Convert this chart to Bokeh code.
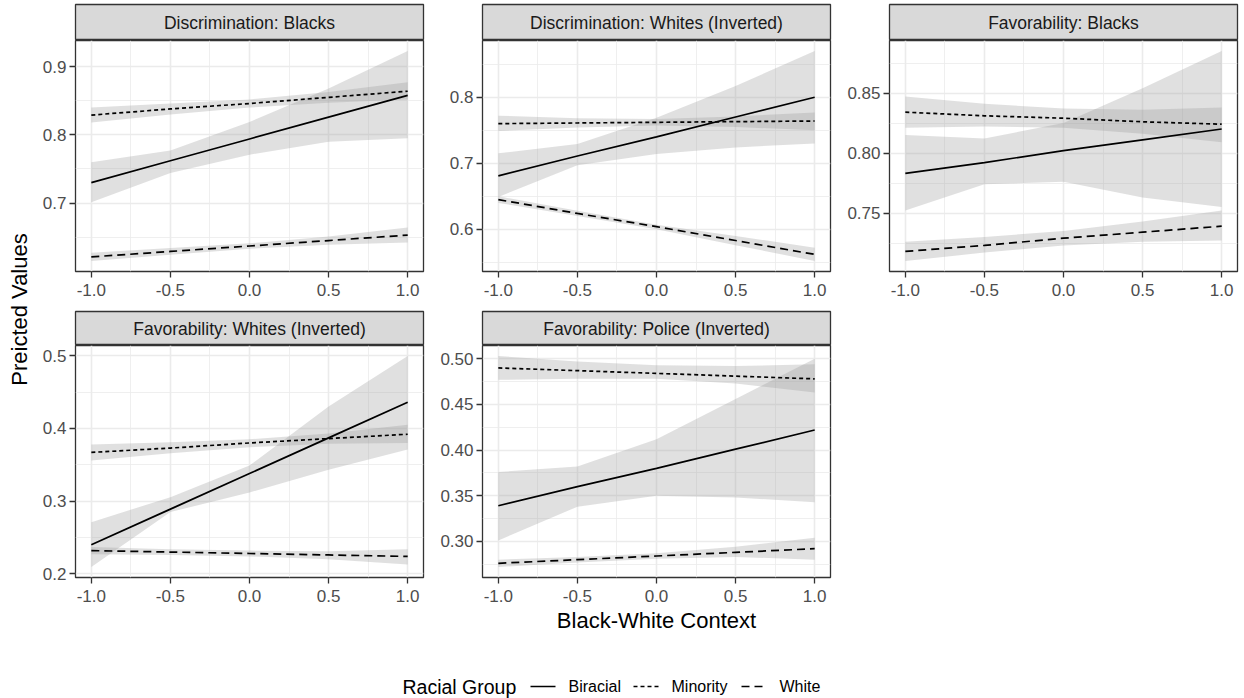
import math
from bokeh.plotting import figure
from bokeh.layouts import row, column
from bokeh.models import Range1d, FixedTicker, Spacer
from bokeh.core.properties import value
from bokeh.embed import file_html
from bokeh.resources import INLINE

# ---------------- data ----------------
context = [-1.0, -0.5, 0.0, 0.5, 1.0]
groups = ["Biracial", "Minority", "White"]
panel_titles = ["Discrimination: Blacks", "Discrimination: Whites (Inverted)",
                "Favorability: Blacks", "Favorability: Whites (Inverted)",
                "Favorability: Police (Inverted)"]

# Discrimination: Blacks
db_biracial_fit = [0.730, 0.762, 0.794, 0.826, 0.858]
db_biracial_lo = [0.701, 0.744, 0.771, 0.790, 0.795]
db_biracial_hi = [0.760, 0.777, 0.819, 0.868, 0.923]
db_minority_fit = [0.829, 0.838, 0.846, 0.855, 0.864]
db_minority_lo = [0.818, 0.830, 0.840, 0.847, 0.852]
db_minority_hi = [0.840, 0.846, 0.852, 0.863, 0.877]
db_white_fit = [0.621, 0.629, 0.637, 0.645, 0.653]
db_white_lo = [0.615, 0.624, 0.633, 0.639, 0.642]
db_white_hi = [0.627, 0.634, 0.641, 0.651, 0.664]

# Discrimination: Whites (Inverted)
dw_biracial_fit = [0.681, 0.711, 0.740, 0.770, 0.800]
dw_biracial_lo = [0.649, 0.697, 0.714, 0.724, 0.730]
dw_biracial_hi = [0.715, 0.729, 0.769, 0.817, 0.870]
dw_minority_fit = [0.760, 0.761, 0.762, 0.763, 0.764]
dw_minority_lo = [0.749, 0.754, 0.757, 0.755, 0.750]
dw_minority_hi = [0.772, 0.768, 0.767, 0.771, 0.777]
dw_white_fit = [0.645, 0.624, 0.604, 0.583, 0.562]
dw_white_lo = [0.640, 0.620, 0.600, 0.576, 0.552]
dw_white_hi = [0.650, 0.628, 0.607, 0.590, 0.572]

# Favorability: Blacks
fb_biracial_fit = [0.783, 0.792, 0.802, 0.811, 0.820]
fb_biracial_lo = [0.752, 0.774, 0.776, 0.763, 0.755]
fb_biracial_hi = [0.815, 0.812, 0.825, 0.854, 0.885]
fb_minority_fit = [0.834, 0.831, 0.829, 0.826, 0.824]
fb_minority_lo = [0.821, 0.822, 0.821, 0.816, 0.809]
fb_minority_hi = [0.847, 0.841, 0.837, 0.836, 0.838]
fb_white_fit = [0.718, 0.723, 0.729, 0.734, 0.739]
fb_white_lo = [0.710, 0.717, 0.723, 0.726, 0.727]
fb_white_hi = [0.726, 0.730, 0.735, 0.743, 0.752]

# Favorability: Whites (Inverted)
fw_biracial_fit = [0.240, 0.289, 0.338, 0.387, 0.436]
fw_biracial_lo = [0.2095, 0.285, 0.312, 0.343, 0.371]
fw_biracial_hi = [0.271, 0.3055, 0.349, 0.430, 0.4995]
fw_minority_fit = [0.367, 0.373, 0.380, 0.386, 0.392]
fw_minority_lo = [0.356, 0.366, 0.374, 0.379, 0.380]
fw_minority_hi = [0.378, 0.381, 0.385, 0.393, 0.405]
fw_white_fit = [0.232, 0.230, 0.228, 0.226, 0.224]
fw_white_lo = [0.227, 0.226, 0.224, 0.220, 0.213]
fw_white_hi = [0.237, 0.234, 0.232, 0.231, 0.234]

# Favorability: Police (Inverted)
fp_biracial_fit = [0.339, 0.360, 0.380, 0.401, 0.422]
fp_biracial_lo = [0.301, 0.338, 0.350, 0.348, 0.343]
fp_biracial_hi = [0.376, 0.382, 0.412, 0.456, 0.500]
fp_minority_fit = [0.490, 0.487, 0.484, 0.481, 0.478]
fp_minority_lo = [0.477, 0.478, 0.478, 0.473, 0.463]
fp_minority_hi = [0.503, 0.497, 0.493, 0.492, 0.494]
fp_white_fit = [0.276, 0.280, 0.284, 0.288, 0.292]
fp_white_lo = [0.272, 0.277, 0.281, 0.283, 0.280]
fp_white_hi = [0.280, 0.283, 0.287, 0.294, 0.304]

x_ticks = [-1.0, -0.5, 0.0, 0.5, 1.0]
x_minor = [-0.75, -0.25, 0.25, 0.75]
x_tick_labels = ["-1.0", "-0.5", "0.0", "0.5", "1.0"]

y_ticks = [[0.7, 0.8, 0.9], [0.6, 0.7, 0.8], [0.75, 0.80, 0.85],
           [0.2, 0.3, 0.4, 0.5], [0.30, 0.35, 0.40, 0.45, 0.50]]
y_minor = [[0.65, 0.75, 0.85], [0.55, 0.65, 0.75, 0.85], [0.725, 0.775, 0.825, 0.875],
           [0.25, 0.35, 0.45], [0.275, 0.325, 0.375, 0.425, 0.475]]
y_tick_labels = [["0.7", "0.8", "0.9"], ["0.6", "0.7", "0.8"], ["0.75", "0.80", "0.85"],
                 ["0.2", "0.3", "0.4", "0.5"], ["0.30", "0.35", "0.40", "0.45", "0.50"]]

panels = [
    [(db_biracial_fit, db_biracial_lo, db_biracial_hi), (db_minority_fit, db_minority_lo, db_minority_hi), (db_white_fit, db_white_lo, db_white_hi)],
    [(dw_biracial_fit, dw_biracial_lo, dw_biracial_hi), (dw_minority_fit, dw_minority_lo, dw_minority_hi), (dw_white_fit, dw_white_lo, dw_white_hi)],
    [(fb_biracial_fit, fb_biracial_lo, fb_biracial_hi), (fb_minority_fit, fb_minority_lo, fb_minority_hi), (fb_white_fit, fb_white_lo, fb_white_hi)],
    [(fw_biracial_fit, fw_biracial_lo, fw_biracial_hi), (fw_minority_fit, fw_minority_lo, fw_minority_hi), (fw_white_fit, fw_white_lo, fw_white_hi)],
    [(fp_biracial_fit, fp_biracial_lo, fp_biracial_hi), (fp_minority_fit, fp_minority_lo, fp_minority_hi), (fp_white_fit, fp_white_lo, fp_white_hi)],
]

# ---------------- style ----------------
FONT = "Liberation Sans"
DASH = {"Biracial": "solid", "Minority": "4 3", "White": "8 5"}
LINE_W = 1.7
BORDER = "#333333"
GRID = "#EBEBEB"

# column geometry: (fig width, left border, right border)
COLS = [(400, 41, 11), (407, 48, 11), (403, 48, 7)]
ROWS = [  # (strip height, panel height, bottom border)
    (40, 267, 36),
    (38, 262, 30),
]


def make_strip(title, w, bl, br, h):
    s = figure(width=w, height=h, x_range=Range1d(0, 1), y_range=Range1d(0, 1),
               x_axis_location=None, y_axis_location=None,
               min_border_left=bl, min_border_right=br, min_border_top=4, min_border_bottom=0,
               output_backend="svg", toolbar_location=None,
               background_fill_color="#D9D9D9", border_fill_color="white",
               outline_line_color=BORDER, outline_line_width=1.3)
    s.xgrid.visible = False
    s.ygrid.visible = False
    s.text(x=[0.5], y=[0.5], text=[title], text_align="center", text_baseline="middle",
           text_font=value(FONT), text_font_size="17.5px", text_color="#1A1A1A")
    return s


def make_panel(i, w, bl, br, h, bb):
    series = panels[i]
    lo_all = min(min(s[1]) for s in series)
    hi_all = max(max(s[2]) for s in series)
    pad = 0.05 * (hi_all - lo_all)
    p = figure(width=w, height=h, x_range=Range1d(-1.1, 1.1),
               y_range=Range1d(lo_all - pad, hi_all + pad),
               min_border_left=bl, min_border_right=br, min_border_top=0, min_border_bottom=bb,
               output_backend="svg", toolbar_location=None,
               background_fill_color="white", border_fill_color="white",
               outline_line_color=BORDER, outline_line_width=1.3)
    p.xaxis.ticker = FixedTicker(ticks=x_ticks, minor_ticks=x_minor)
    p.yaxis.ticker = FixedTicker(ticks=y_ticks[i], minor_ticks=y_minor[i])
    p.xaxis.major_label_overrides = dict(zip(x_ticks, x_tick_labels))
    p.yaxis.major_label_overrides = dict(zip(y_ticks[i], y_tick_labels[i]))
    for ax in (p.xaxis, p.yaxis):
        ax.axis_line_color = None
        ax.major_tick_line_color = BORDER
        ax.major_tick_line_width = 1.3
        ax.major_tick_out = 6
        ax.major_tick_in = 0
        ax.minor_tick_line_color = None
        ax.major_label_text_font = FONT
        ax.major_label_text_font_size = "17px"
        ax.major_label_text_color = "#4D4D4D"
    p.xaxis.major_label_standoff = 6
    p.yaxis.major_label_standoff = 3
    for g in (p.xgrid, p.ygrid):
        g.grid_line_color = GRID
        g.grid_line_width = 1.6
        g.minor_grid_line_color = GRID
        g.minor_grid_line_width = 0.8
    for fit, lo, hi in series:
        p.varea(x=context, y1=lo, y2=hi, fill_color="#999999", fill_alpha=0.3)
    for g, (fit, lo, hi) in zip(groups, series):
        p.line(x=context, y=fit, line_color="black", line_width=LINE_W, line_dash=DASH[g])
    return p


cells = []
for idx in range(5):
    r, c = divmod(idx, 3)
    w, bl, br = COLS[c]
    sh, ph, bb = ROWS[r]
    cells.append(column(make_strip(panel_titles[idx], w, bl, br, sh),
                        make_panel(idx, w, bl, br, ph, bb), spacing=0))

row1 = row(cells[0], cells[1], cells[2], spacing=0)
row2 = row(cells[3], cells[4], Spacer(width=COLS[2][0], height=ROWS[1][0] + ROWS[1][1]), spacing=0)
grid = column(row1, row2, spacing=0)

H_TOP = 607
YLAB_W = 34
ylab = figure(width=YLAB_W, height=H_TOP, x_range=Range1d(0, YLAB_W), y_range=Range1d(H_TOP, 0),
              x_axis_location=None, y_axis_location=None, min_border=0,
              output_backend="svg", toolbar_location=None, outline_line_color=None)
ylab.xgrid.visible = False
ylab.ygrid.visible = False
ylab.text(x=[19], y=[309], text=["Preicted Values"], angle=math.pi / 2,
          text_align="center", text_baseline="middle",
          text_font=value(FONT), text_font_size="22px", text_color="black")

xlab = figure(width=1244, height=28, x_range=Range1d(0, 1244), y_range=Range1d(28, 0),
              x_axis_location=None, y_axis_location=None, min_border=0,
              output_backend="svg", toolbar_location=None, outline_line_color=None)
xlab.xgrid.visible = False
xlab.ygrid.visible = False
xlab.text(x=[656], y=[13], text=["Black-White Context"], text_align="center",
          text_baseline="middle", text_font=value(FONT), text_font_size="22px", text_color="black")

# legend
leg = figure(width=1244, height=63, x_range=Range1d(0, 1244), y_range=Range1d(63, 0),
             x_axis_location=None, y_axis_location=None, min_border=0,
             output_backend="svg", toolbar_location=None, outline_line_color=None)
leg.xgrid.visible = False
leg.ygrid.visible = False
LEG_Y = 51
leg.text(x=[402], y=[LEG_Y], text=["Racial Group"], text_align="left", text_baseline="middle",
         text_font=value(FONT), text_font_size="19.5px", text_color="black")
key_x = [530, 633, 741]
for g, kx in zip(groups, key_x):
    leg.line(x=[kx, kx + 25], y=[LEG_Y, LEG_Y], line_color="black", line_width=LINE_W,
             line_dash=DASH[g])
    leg.text(x=[kx + 38], y=[LEG_Y], text=[g], text_align="left", text_baseline="middle",
             text_font=value(FONT), text_font_size="16px", text_color="black")

layout = column(row(ylab, grid, spacing=0), xlab, leg, spacing=0)

open("out.html", "w").write(file_html(layout, INLINE))
